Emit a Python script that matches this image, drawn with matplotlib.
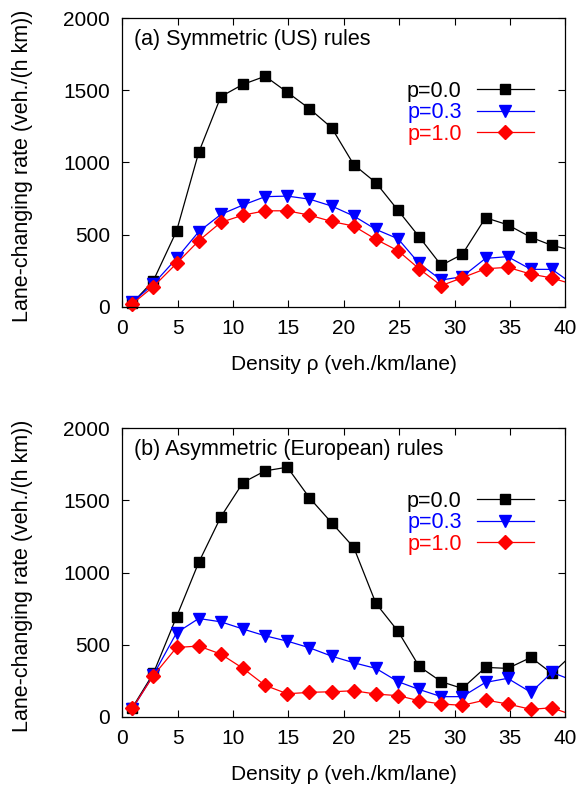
import numpy as np
import matplotlib
matplotlib.use("Agg")
import matplotlib.pyplot as plt

plt.rcParams['font.family'] = ['Liberation Sans', 'DejaVu Sans']

# density values (veh./km/lane); last point lies just beyond the axis limit
density = [0.9, 2.8, 4.9, 6.9, 8.9, 10.9, 12.9, 14.9, 16.9, 18.9, 20.9,
           22.9, 24.9, 26.8, 28.8, 30.7, 32.8, 34.8, 36.9, 38.8, 40.9]

# (a) symmetric (US) rules
us_p00 = [25, 180, 525, 1070, 1457, 1542, 1598, 1487, 1373, 1241, 985,
          860, 668, 485, 287, 363, 617, 568, 481, 425, 387]
us_p03 = [30, 157, 335, 520, 640, 705, 763, 767, 746, 698, 629,
          536, 471, 300, 185, 208, 335, 347, 259, 259, 145]
us_p10 = [20, 139, 300, 457, 585, 635, 665, 665, 635, 591, 559,
          467, 388, 263, 146, 201, 263, 273, 226, 199, 150]

# (b) asymmetric (European) rules
eu_p00 = [62, 300, 693, 1070, 1386, 1624, 1705, 1730, 1518, 1345, 1174,
          786, 592, 349, 243, 196, 342, 335, 411, 300, 450]
eu_p03 = [53, 289, 582, 681, 658, 608, 561, 524, 478, 420, 374,
          335, 243, 189, 139, 139, 238, 266, 169, 307, 245]
eu_p10 = [58, 284, 480, 490, 434, 335, 217, 159, 169, 173, 180,
          157, 146, 111, 88, 79, 116, 88, 51, 62, 5]

labels = ["p=0.0", "p=0.3", "p=1.0"]
colors = ["black", "blue", "red"]
markers = ["s", "v", "D"]
msizes = [7.5, 8, 7]

fig = plt.figure(figsize=(5.83, 7.85), dpi=100)
ax_top = fig.add_axes([0.2098, 0.6093, 0.7598, 0.3674])
ax_bot = fig.add_axes([0.2098, 0.0870, 0.7598, 0.3674])


def draw_panel(ax, series, title):
    x = np.array(density)
    inside = x <= 40
    handles = []
    for y, lab, c, m, ms in zip(series, labels, colors, markers, msizes):
        y = np.array(y)
        ax.plot(x, y, color=c, lw=0.9)
        ax.plot(x[inside], y[inside], ls="none", marker=m, ms=ms,
                color=c, clip_on=False)
        h, = ax.plot([], [], color=c, lw=0.9, marker=m, ms=ms)
        handles.append(h)
    ax.set_xlim(0, 40)
    ax.set_ylim(0, 2000)
    ax.set_xticks(range(0, 41, 5))
    ax.set_yticks(range(0, 2001, 500))
    ax.tick_params(direction="in", top=True, right=True, labelsize=15,
                   length=5, width=0.8, pad=9)
    for s in ax.spines.values():
        s.set_linewidth(0.9)
    ax.set_xlabel("Density ρ (veh./km/lane)", fontsize=15, labelpad=12)
    ax.set_ylabel("Lane-changing rate (veh./(h km))", fontsize=15.5)
    ax.yaxis.set_label_coords(-0.201, 0.49)
    ax.text(0.026, 0.925, title, transform=ax.transAxes, fontsize=15.5,
            ha="left", va="center")
    leg = ax.legend(handles, labels, loc="center right",
                    bbox_to_anchor=(0.929, 0.672), frameon=False,
                    markerfirst=False, fontsize=15.5, handlelength=2.65,
                    handletextpad=0.7, labelspacing=0.02, borderpad=0,
                    borderaxespad=0)
    for t, c in zip(leg.get_texts(), colors):
        t.set_color(c)


draw_panel(ax_top, [us_p00, us_p03, us_p10], "(a) Symmetric (US) rules")
draw_panel(ax_bot, [eu_p00, eu_p03, eu_p10], "(b) Asymmetric (European) rules")

fig.savefig("out.png", dpi=100)
